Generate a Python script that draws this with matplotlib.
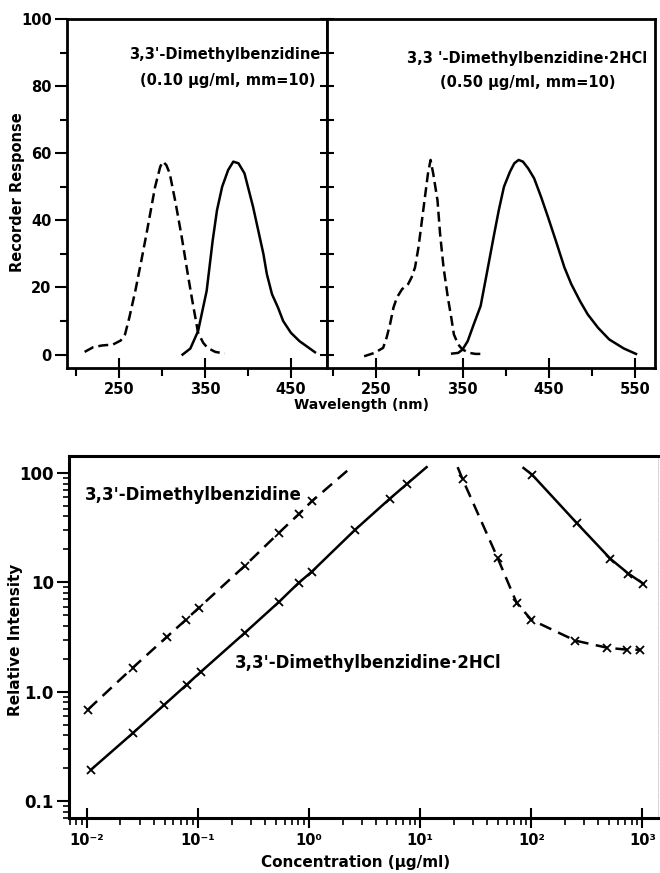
import matplotlib
matplotlib.use("Agg")
import matplotlib.pyplot as plt
from matplotlib.ticker import FixedLocator, NullFormatter, LogLocator
import numpy as np

plt.rcParams['font.family'] = ['DejaVu Sans']
plt.rcParams['font.weight'] = 'bold'

# ---------------- top panels: spectra ----------------
# 3,3'-Dimethylbenzidine (0.10 ug/ml)
dmb_ex_wl = [210, 220, 230, 243, 252, 257, 262, 269, 276, 282, 292, 298, 301, 305, 309,
             316, 323, 330, 335, 342, 348, 353, 362, 373]
dmb_ex_resp = [0.8, 2.2, 2.7, 3.0, 4.2, 6, 11, 19, 28, 36, 50, 56, 57.5, 56.5, 54,
               45, 35, 24, 16.5, 6.5, 3.5, 2, 0.8, 0.3]
dmb_em_wl = [324, 333, 342, 352, 359, 364, 370, 377, 383, 389, 396, 406, 412, 418, 422,
             428, 435, 441, 450, 460, 472, 478]
dmb_em_resp = [0, 1.8, 7, 19, 34, 43, 50, 55, 57.5, 57, 54, 44, 37, 30, 24,
               18, 14, 10, 6.5, 4, 1.8, 0.7]

# 3,3'-Dimethylbenzidine.2HCl (0.50 ug/ml)
hcl_ex_wl = [236, 248, 258, 262, 266, 270, 274, 280, 287, 291, 295, 299, 301, 304, 307,
             310, 313, 316, 321, 324, 328, 333, 337, 340, 345, 350, 358, 365, 373]
hcl_ex_resp = [-0.5, 0.5, 2, 5, 9, 14, 17, 19.5, 21, 23, 26, 32, 36, 42, 48,
               54, 58, 54, 46, 36, 26, 17, 11, 6, 3, 1.5, 0.5, 0.2, 0.2]
hcl_em_wl = [338, 345, 350, 356, 363, 371, 378, 386, 392, 398, 405, 410, 415, 420, 426,
             433, 441, 449, 458, 468, 476, 486, 495, 507, 520, 537, 551]
hcl_em_resp = [0.3, 0.5, 1.5, 4, 9, 14.5, 24, 35, 43, 50, 54.5, 57, 58, 57.5, 55.5,
               52.5, 47, 41, 34, 26, 21, 16, 12, 8, 4.5, 1.8, 0.2]

top_xmajor = [250, 350, 450]
top_xmajor_R = [250, 350, 450, 550]
top_xminor = [200, 300, 400, 500]
top_yticks = [0, 20, 40, 60, 80, 100]
top_yminor = [10, 30, 50, 70, 90]

label_L1 = "3,3'-Dimethylbenzidine"
label_L2 = "(0.10 \u03bcg/ml, mm=10)"
label_R1 = "3,3 '-Dimethylbenzidine\u00b72HCl"
label_R2 = "(0.50 \u03bcg/ml, mm=10)"

# ---------------- bottom panel: concentration ----------------
dmb_asc_conc = [0.0102, 0.0259, 0.0525, 0.0777, 0.1016, 0.264, 0.533, 0.805, 1.055]
dmb_asc_int = [0.686, 1.66, 3.18, 4.55, 5.85, 14.2, 28.3, 42, 55]
dmb_asc_tail_conc = [2.4]
dmb_asc_tail_int = [113]

hcl_asc_conc = [0.0109, 0.026, 0.0497, 0.079, 0.106, 0.264, 0.533, 0.805, 1.055, 2.57, 5.3, 7.55]
hcl_asc_int = [0.194, 0.42, 0.76, 1.16, 1.52, 3.46, 6.6, 9.9, 12.5, 30, 58, 79]
hcl_asc_tail_conc = [11.4]
hcl_asc_tail_int = [113]

dmb_desc_head_conc = [21.7]
dmb_desc_head_int = [113]
dmb_desc_conc = [24, 49.7, 73.6, 100, 249, 484, 733, 960]
dmb_desc_int = [88, 16.7, 6.5, 4.54, 2.93, 2.52, 2.42, 2.42]

hcl_desc_head_conc = [85]
hcl_desc_head_int = [111]
hcl_desc_conc = [102, 255, 515, 748, 1020]
hcl_desc_int = [96, 35, 16.4, 12, 9.7]

bot_xticks = [1e-2, 1e-1, 1e0, 1e1, 1e2, 1e3]
bot_xlabels = ["10\u207b\u00b2", "10\u207b\u00b9", "10\u2070", "10\u00b9", "10\u00b2", "10\u00b3"]
bot_yticks = [0.1, 1, 10, 100]
bot_ylabels = ["0.1", "1.0", "10", "100"]

W, H = 660, 873
fig = plt.figure(figsize=(W / 100, H / 100), dpi=100)

def ax_px(x0, y0, x1, y1):
    return fig.add_axes([x0 / W, 1 - y1 / H, (x1 - x0) / W, (y1 - y0) / H])

axL = ax_px(67, 19, 327, 368)
axR = ax_px(327, 19, 655, 368)

dash_top = (0, (4, 2))
lw = 1.8
axL.plot(dmb_ex_wl, dmb_ex_resp, color='k', lw=lw, ls=dash_top)
axL.plot(dmb_em_wl, dmb_em_resp, color='k', lw=lw)
axR.plot(hcl_ex_wl, hcl_ex_resp, color='k', lw=lw, ls=dash_top)
axR.plot(hcl_em_wl, hcl_em_resp, color='k', lw=lw)

axL.set_xlim(189.5, 492)
axR.set_xlim(193, 573)
for ax in (axL, axR):
    ax.set_ylim(-4, 100)
    for s in ax.spines.values():
        s.set_linewidth(2)
    ax.xaxis.set_minor_locator(FixedLocator(top_xminor))
    ax.tick_params(axis='x', which='major', direction='inout', length=14, width=1.5,
                   labelsize=10.5, pad=3)
    ax.tick_params(axis='x', which='minor', direction='out', length=6, width=1.5)

axL.set_xticks(top_xmajor)
axR.set_xticks(top_xmajor_R)
axL.set_xticklabels([str(v) for v in top_xmajor], fontweight='bold')
axR.set_xticklabels([str(v) for v in top_xmajor_R], fontweight='bold')

axL.set_yticks(top_yticks)
axL.set_yticklabels([str(v) for v in top_yticks], fontweight='bold', fontsize=10.5)
axL.yaxis.set_minor_locator(FixedLocator(top_yminor))
axL.tick_params(axis='y', which='major', direction='out', length=9, width=1.5, pad=2)
axL.tick_params(axis='y', which='minor', direction='out', length=5, width=1.5)

axR.set_yticks(top_yticks + top_yminor)
axR.set_yticklabels([])
axR.tick_params(axis='y', which='major', direction='inout', length=10, width=1.5)

txt_kw = dict(fontsize=10.5, fontweight='bold', va='center')
axL.text(0.973, 0.897, label_L1, transform=axL.transAxes, ha='right', **txt_kw)
axL.text(0.954, 0.825, label_L2, transform=axL.transAxes, ha='right', **txt_kw)
axR.text(0.611, 0.888, label_R1, transform=axR.transAxes, ha='center', **txt_kw)
axR.text(0.613, 0.819, label_R2, transform=axR.transAxes, ha='center', **txt_kw)

fig.text(18 / W, 1 - 192 / H, "Recorder Response", rotation=90, ha='center', va='center',
         fontsize=10.5, fontweight='bold')
fig.text(362 / W, 1 - 405 / H, "Wavelength (nm)", ha='center', va='center',
         fontsize=10, fontweight='bold')

# ---------------- bottom ----------------
axB = ax_px(69, 456, 658, 818)
axB.set_xscale('log')
axB.set_yscale('log')
axB.set_xlim(10 ** -2.162, 10 ** 3.14)
axB.set_ylim(10 ** -1.155, 10 ** 2.155)

dash_bot = (0, (5, 3))
ms = 6
mew = 1.3
axB.plot(dmb_asc_conc + dmb_asc_tail_conc, dmb_asc_int + dmb_asc_tail_int,
         color='k', lw=lw, ls=dash_bot)
axB.plot(dmb_asc_conc, dmb_asc_int, ls='none', marker='x', ms=ms, mew=mew, color='k')
axB.plot(hcl_asc_conc + hcl_asc_tail_conc, hcl_asc_int + hcl_asc_tail_int,
         color='k', lw=lw)
axB.plot(hcl_asc_conc, hcl_asc_int, ls='none', marker='x', ms=ms, mew=mew, color='k')
axB.plot(dmb_desc_head_conc + dmb_desc_conc, dmb_desc_head_int + dmb_desc_int,
         color='k', lw=lw, ls=dash_bot)
axB.plot(dmb_desc_conc, dmb_desc_int, ls='none', marker='x', ms=ms, mew=mew, color='k')
axB.plot(hcl_desc_head_conc + hcl_desc_conc, hcl_desc_head_int + hcl_desc_int,
         color='k', lw=lw)
axB.plot(hcl_desc_conc, hcl_desc_int, ls='none', marker='x', ms=ms, mew=mew, color='k')

for side in ('left', 'bottom', 'top'):
    axB.spines[side].set_linewidth(2.2)
axB.spines['right'].set_linewidth(0.6)
axB.spines['right'].set_color('0.75')
axB.spines['right'].set_linestyle(':')

axB.xaxis.set_major_locator(FixedLocator(bot_xticks))
axB.set_xticklabels(bot_xlabels, fontweight='bold', fontsize=10.5)
axB.xaxis.set_minor_locator(LogLocator(base=10, subs=np.arange(2, 10), numticks=20))
axB.xaxis.set_minor_formatter(NullFormatter())
axB.tick_params(axis='x', which='major', direction='inout', length=14, width=1.5, pad=4)
axB.tick_params(axis='x', which='minor', direction='out', length=5, width=1.2)

axB.yaxis.set_major_locator(FixedLocator(bot_yticks))
axB.set_yticklabels(bot_ylabels, fontweight='bold', fontsize=12)
axB.yaxis.set_minor_locator(LogLocator(base=10, subs=np.arange(2, 10), numticks=20))
axB.yaxis.set_minor_formatter(NullFormatter())
axB.tick_params(axis='y', which='major', direction='out', length=9, width=1.5, pad=2)
axB.tick_params(axis='y', which='minor', direction='out', length=4, width=1.2)

axB.text(0.027, 0.892, "3,3'-Dimethylbenzidine", transform=axB.transAxes,
         ha='left', va='center', fontsize=12, fontweight='bold')
axB.text(0.282, 0.428, "3,3'-Dimethylbenzidine\u00b72HCl", transform=axB.transAxes,
         ha='left', va='center', fontsize=12, fontweight='bold')

fig.text(16 / W, 1 - 640 / H, "Relative Intensity", rotation=90, ha='center', va='center',
         fontsize=11, fontweight='bold')
fig.text(356 / W, 1 - 862 / H, "Concentration (\u03bcg/ml)", ha='center', va='center',
         fontsize=11, fontweight='bold')

fig.savefig("out.png", dpi=100)
